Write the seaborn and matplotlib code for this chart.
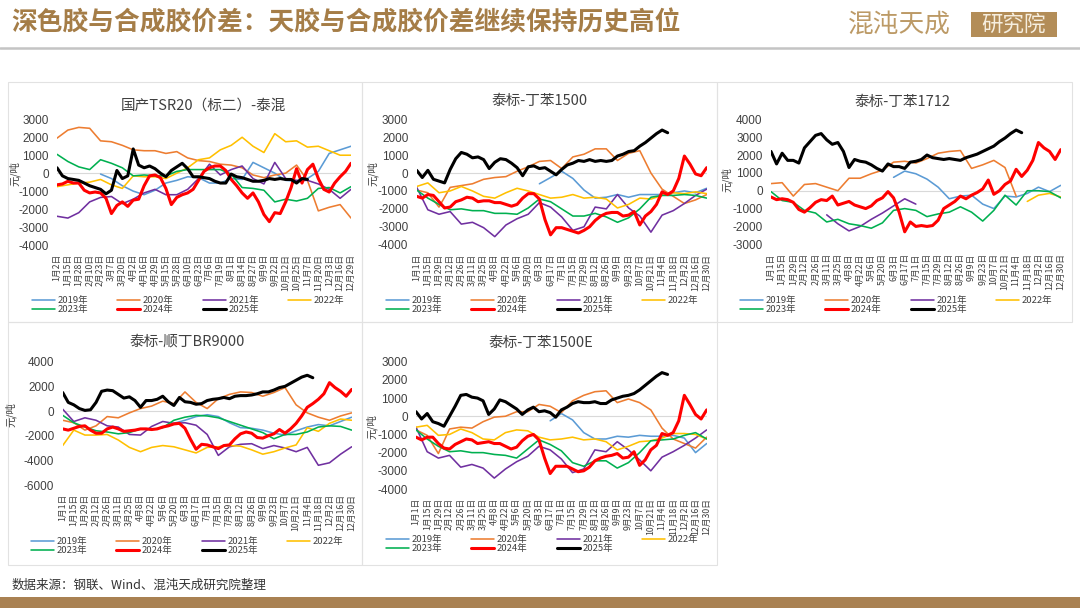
import matplotlib
matplotlib.use('Agg')
import matplotlib.pyplot as plt
import seaborn as sns
import pandas as pd
import numpy as np
from matplotlib.patches import Rectangle
from matplotlib.lines import Line2D

sns.set_theme(style='white')
plt.rcParams['font.family'] = ['Noto Sans CJK SC', 'DejaVu Sans']
plt.rcParams['axes.unicode_minus'] = False

W, H = 1080, 608

YEARS = ['2019年', '2020年', '2021年', '2022年', '2023年', '2024年', '2025年']
COLORS = ['#5B9BD5', '#ED7D31', '#7030A0', '#FFC000', '#00B050', '#FF0000', '#000000']

# x tick labels
ticks_tsr = ['1月2日', '1月15日', '1月28日', '2月10日', '2月23日', '3月7日', '3月20日', '4月2日',
             '4月16日', '4月29日', '5月15日', '5月28日', '6月10日', '6月23日', '7月6日', '7月19日',
             '8月1日', '8月14日', '8月27日', '9月9日', '9月22日', '10月12日', '10月25日', '11月7日',
             '11月20日', '12月3日', '12月16日', '12月29日']
ticks_std = ['1月1日', '1月15日', '1月29日', '2月12日', '2月26日', '3月11日', '3月25日', '4月8日',
             '4月22日', '5月6日', '5月20日', '6月3日', '6月17日', '7月1日', '7月15日', '7月29日',
             '8月12日', '8月26日', '9月9日', '9月23日', '10月7日', '10月21日', '11月4日', '11月18日',
             '12月2日', '12月16日', '12月30日']

# ---- 国产TSR20（标二）-泰混 ----  (2019-2023 one value per tick, 2024/2025 two per tick)
tsr_2019 = [-50, -300, -700, -1000, -1200, -950, -550, -400, -200, -250, -550, -550, -300, -350,
            600, 300, 0, -400, -450, -300, 100, 1100, 1300, 1500]
tsr_2020 = [1950, 2400, 2550, 2500, 1800, 1750, 1550, 1300, 1250, 1250, 1100, 1200, 850, 700,
            650, 500, 450, 300, -100, -250, -100, 0, 450, -400, -2100, -1900, -1750, -2500]
tsr_2021 = [-2400, -2500, -2200, -1600, -1350, -1300, -1700, -1450, -1100, -900, -1200, -1200,
            -900, -300, 500, -100, 200, 400, -300, -600, 600, -300, -400, -400, -600, -900, -1400, -900]
tsr_2022 = [-750, -650, -550, -500, -350, -650, -850, -150, -200, -200, -300, 0, 300, 750, 850,
            1300, 1550, 2000, 1500, 1150, 2200, 1750, 1800, 1450, 1500, 1250, 1000, 1000]
tsr_2023 = [1050, 650, 350, 200, 750, 550, 300, -150, -100, -150, -150, 100, 200, 200, 200, 200,
            -50, -800, -850, -950, -1600, -1450, -1550, -1400, -850, -800, -1100, -750]
tsr_2024 = [-650, -600, -450, -550, -550, -950, -1100, -1050, -1100, -1400,
            -2250, -1800, -1600, -1850, -1500, -1450, -700, -150, -100, -250,
            -850, -1750, -1350, -1200, -1100, -900, -400, 100, 300, 400,
            400, 150, -350, -700, -1100, -1400, -1100, -1600, -2300, -2700,
            -2200, -2250, -1600, -800, 250, -550, 200, 500, -300, -900,
            -1050, -550, -200, 100, 550]
tsr_2025 = [300, -150, -300, -350, -400, -550, -700, -800, -900, -1150,
            -950, 150, -300, -150, 1350, 450, 300, 400, 250, 0,
            -200, 150, 350, 550, 250, -200, -200, -250, -300, -450,
            -550, -550, -50, -200, -250, -350, -450, -450, -400, -300,
            -350, -300, -350, -350, -550, -300, -350]

# ---- 泰标-丁苯1500 ----
p2_2019 = [-600, -250, 100, -300, -950, -1400, -1350, -1200, -1350, -1200, -1200, -1200, -1100,
           -1000, -1100, -850]
p2_2020 = [-950, -1100, -1900, -800, -700, -600, -350, -250, -200, 100, 350, 650, 700, 250, 900,
           1050, 1350, 1350, 700, 1100, 1250, 0, -900, -1300, -1700, -1500, -1200]
p2_2021 = [-800, -2050, -2300, -2150, -2850, -2750, -3050, -3550, -2900, -2550, -2300, -1650,
           -1900, -2450, -3200, -3000, -1900, -2000, -1200, -1950, -2400, -3300, -2350, -2100,
           -1700, -1250, -900]
p2_2022 = [-750, -550, -1100, -1000, -750, -1000, -1300, -1400, -1100, -850, -1000, -1200, -1400,
           -1350, -1200, -1400, -1350, -1450, -1950, -1750, -1400, -1450, -1250, -1100, -1150,
           -1050, -1150]
p2_2023 = [-950, -1400, -1750, -2050, -2000, -2100, -2100, -2250, -2250, -2300, -1950, -1450,
           -1600, -2000, -2400, -2400, -2250, -2450, -2750, -2500, -2000, -1350, -1250, -1250,
           -1200, -1250, -1400]
p2_2024 = [-1300, -1400, -1200, -1250, -1600, -1950, -1900, -1600, -1500, -1350,
           -1400, -1600, -1550, -1550, -1650, -1650, -1750, -1850, -1750, -1400,
           -1150, -1150, -1450, -2600, -3450, -3050, -3050, -3150, -3250, -3350,
           -3200, -3000, -2650, -2400, -2250, -2200, -2200, -2400, -2350, -2150,
           -2900, -2400, -2150, -1750, -1050, -1200, -1000, -300, 950, 500,
           -50, -150, 300]
p2_2025 = [150, -250, 150, -350, -450, -550, 200, 800, 1150, 1050,
           850, 900, 750, 250, 600, 800, 750, 550, 300, -150,
           350, 400, 250, 300, 100, -100, 200, 450, 550, 700,
           650, 750, 650, 700, 650, 700, 950, 1050, 1200, 1250,
           1500, 1700, 1950, 2200, 2400, 2250]

# ---- 泰标-丁苯1712 ----
p3_2019 = [750, 1100, 950, 650, 200, -450, -300, -250, -750, -1000, -300, -350, -150, 200, -50, 300]
p3_2020 = [400, 450, -300, 350, 400, 200, 0, 700, 700, 950, 1150, 1600, 1650, 1550, 1800, 2100,
           2200, 2250, 1250, 1450, 1700, 1300, -300]
p3_2021 = [-1350, -1850, -2250, -2000, -1600, -1250, -850, -450, -750]
p3_2022 = [-600, -250, -150, -350]
p3_2023 = [-50, -550, -650, -1100, -1250, -1750, -1600, -1850, -1950, -2100, -1800, -1100, -1000,
           -1100, -1450, -1300, -1200, -900, -1200, -1700, -1100, -250, -800, 0, 0, -50, -400]
p3_2024 = [-350, -500, -450, -500, -650, -1050, -1200, -950, -650, -500,
           -550, -300, -800, -700, -600, -800, -900, -1000, -850, -550,
           -400, -50, -400, -1200, -2300, -1750, -2000, -1950, -2000, -1950,
           -1650, -1000, -800, -600, -300, -450, -250, -100, 100, 600,
           -200, 0, 350, 550, 1200, 800, 1150, 1700, 2700, 2400,
           2200, 1750, 2300]
p3_2025 = [2200, 1500, 2100, 1700, 1700, 1550, 2400, 2750, 3100, 3200,
           2850, 2600, 2700, 2200, 1300, 1750, 1650, 1600, 1450, 1250,
           1100, 1500, 1350, 1350, 1250, 1600, 1650, 1750, 2000, 1850,
           1800, 1750, 1800, 1750, 1700, 1850, 1950, 2050, 2200, 2350,
           2500, 2750, 2950, 3200, 3400, 3250]

# ---- 泰标-顺丁BR9000 ----
p4_2019 = [-1000, -750, -450, -300, -450, -950, -1350, -1400, -1550, -1800, -1950, -1600, -1300,
           -1100, -1200, -850, -500]
p4_2020 = [-750, -950, -1550, -1200, -450, -550, -150, 200, 400, 800, 600, 1550, 700, 200, 1000,
           1350, 1550, 1500, 1200, 1500, 1900, 500, -150, -500, -750, -400, -150]
p4_2021 = [150, -850, -550, -750, -1200, -1300, -1900, -1950, -1250, -850, -1000, -950, -1150,
           -1900, -3600, -2900, -2700, -2650, -3050, -2800, -3000, -3300, -2950, -4400, -4200,
           -3500, -2900]
p4_2022 = [-2800, -1550, -1950, -1950, -1900, -2350, -2950, -3300, -2950, -2800, -2900, -3150,
           -3400, -2950, -2900, -2800, -2850, -3150, -3500, -3300, -3000, -2750, -1350, -1650,
           -1000, -650, -750]
p4_2023 = [-350, -950, -1300, -1600, -1700, -1850, -1750, -1450, -1500, -1350, -750, -500, -350,
           -400, -550, -850, -1150, -1450, -1750, -2250, -1900, -1900, -1700, -1300, -1200,
           -1250, -1550]
p4_2024 = [-1450, -1550, -1400, -1250, -1200, -1550, -1800, -1800, -1450, -1300,
           -1450, -1650, -1600, -1550, -1450, -1450, -1500, -1450, -1300, -1200,
           -1050, -1000, -1400, -2300, -3100, -2700, -2750, -2900, -3050, -2800,
           -2750, -2250, -1850, -1700, -1800, -2150, -2200, -2000, -1850, -1500,
           -1800, -1450, -1000, -400, 300, 600, 950, 1400, 2300, 1900,
           1600, 1200, 1750]
p4_2025 = [1500, 700, 500, 200, 50, 100, 700, 1600, 1700, 1650,
           1350, 1050, 1150, 850, 300, 850, 850, 950, 1200, 750,
           450, 1100, 750, 700, 550, 600, 850, 950, 1000, 1100,
           1000, 1200, 1250, 1250, 1300, 1400, 1550, 1550, 1700, 1900,
           2000, 2250, 2500, 2750, 2900, 2700]

# ---- 泰标-丁苯1500E ----
p5_2019 = [-250, 150, -200, -900, -1250, -1250, -1100, -1150, -1050, -1100, -1100, -1050, -1200,
           -2000, -1500]
p5_2020 = [-750, -1050, -2050, -700, -600, -650, -300, -50, 0, 250, 250, 650, 550, 200, 850,
           1150, 1350, 1400, 750, 950, 750, 350, -650, -1250, -1500, -1750, -1150]
p5_2021 = [-600, -1950, -2300, -2150, -2800, -2650, -2850, -3400, -2900, -2500, -2200, -1650,
           -1850, -2350, -3100, -2900, -1850, -1950, -1400, -1850, -2400, -3000, -2250, -1950,
           -1600, -1200, -750]
p5_2022 = [-600, -500, -1050, -1000, -700, -900, -1250, -1300, -900, -750, -800, -1150, -1300,
           -1250, -1150, -1300, -1250, -1400, -1850, -1650, -1400, -1350, -1200, -950, -950,
           -1000, -1250]
p5_2023 = [-750, -1250, -1650, -1950, -1900, -2000, -2000, -2100, -2150, -2300, -1800, -1300,
           -1550, -1900, -2550, -2750, -2450, -2450, -2850, -2550, -2000, -1350, -1300, -1250,
           -1050, -900, -1250]
p5_2024 = [-1150, -1300, -1150, -1150, -1500, -1750, -1800, -1550, -1400, -1250,
           -1300, -1500, -1450, -1400, -1500, -1500, -1650, -1800, -1700, -1350,
           -1100, -1000, -1300, -2300, -3150, -2750, -2750, -2750, -2900, -3050,
           -3000, -2800, -2450, -2300, -2200, -2150, -2050, -2300, -2250, -1950,
           -2700, -2400, -1850, -1600, -950, -1050, -900, -250, 1150, 650,
           100, -150, 350]
p5_2025 = [250, -150, 150, -300, -400, -550, 0, 550, 1150, 1200,
           1050, 1000, 850, 100, 400, 900, 800, 600, 400, 100,
           350, 500, 250, 300, 200, -50, 350, 500, 700, 800,
           750, 750, 800, 700, 700, 900, 1000, 1100, 1150, 1250,
           1450, 1700, 1950, 2200, 2400, 2300]


def series_frame(series):
    # series: list of (start tick, step, values) in year order
    rows = []
    for year, (start, step, vals) in zip(YEARS, series):
        for k, v in enumerate(vals):
            rows.append((year, start + step * k, v))
    return pd.DataFrame(rows, columns=['year', 'x', 'value'])


PANELS = [
    dict(title='国产TSR20（标二）-泰混', ticks=ticks_tsr,
         series=[(4, 1, tsr_2019), (0, 1, tsr_2020), (0, 1, tsr_2021), (0, 1, tsr_2022),
                 (0, 1, tsr_2023), (0, 0.5, tsr_2024), (0, 0.5, tsr_2025)],
         box=(57, 351, 119.3, 245), ylim=(-4000, 3000), ystep=1000,
         title_xy=(203, 106), unit_xy=(15, 174), legend_xy=(32, 296)),
    dict(title='泰标-丁苯1500', ticks=ticks_std,
         series=[(11, 1, p2_2019), (0, 1, p2_2020), (0, 1, p2_2021), (0, 1, p2_2022),
                 (0, 1, p2_2023), (0, 0.5, p2_2024), (0, 0.5, p2_2025)],
         box=(416.7, 706.7, 119.3, 244.7), ylim=(-4000, 3000), ystep=1000,
         title_xy=(540, 101), unit_xy=(373, 174), legend_xy=(386, 296)),
    dict(title='泰标-丁苯1712', ticks=ticks_std,
         series=[(11, 1, p3_2019), (0, 1, p3_2020), (5, 1, p3_2021), (23, 1, p3_2022),
                 (0, 1, p3_2023), (0, 0.5, p3_2024), (0, 0.5, p3_2025)],
         box=(771, 1060.7, 119.3, 244.3), ylim=(-3000, 4000), ystep=1000,
         title_xy=(902, 102), unit_xy=(727, 180), legend_xy=(740, 296)),
    dict(title='泰标-顺丁BR9000', ticks=ticks_std,
         series=[(10, 1, p4_2019), (0, 1, p4_2020), (0, 1, p4_2021), (0, 1, p4_2022),
                 (0, 1, p4_2023), (0, 0.5, p4_2024), (0, 0.5, p4_2025)],
         box=(62.7, 351.7, 361.7, 485), ylim=(-6000, 4000), ystep=2000,
         title_xy=(187, 342), unit_xy=(11, 415), legend_xy=(31, 537)),
    dict(title='泰标-丁苯1500E', ticks=ticks_std,
         series=[(12, 1, p5_2019), (0, 1, p5_2020), (0, 1, p5_2021), (0, 1, p5_2022),
                 (0, 1, p5_2023), (0, 0.5, p5_2024), (0, 0.5, p5_2025)],
         box=(416, 706.7, 361.7, 489), ylim=(-4000, 3000), ystep=1000,
         title_xy=(541, 343), unit_xy=(372, 427), legend_xy=(386, 535)),
]

PANEL_FRAMES = [(8, 82, 362, 322), (362, 82, 717, 322), (717, 82, 1072, 322),
                (8, 322, 362, 565), (362, 322, 717, 565)]


def fx(x):
    return x / W


def fy(y):
    return 1 - y / H


fig = plt.figure(figsize=(W / 100, H / 100), dpi=100)
fig.patch.set_facecolor('white')

# header
fig.text(fx(11), fy(23), '深色胶与合成胶价差：天胶与合成胶价差继续保持历史高位',
         fontsize=18.5, color='#A57D47', fontweight='bold', ha='left', va='center')
fig.add_artist(Line2D([0, 1], [fy(48), fy(48)], color='#C4C4C4', lw=1.8,
                      transform=fig.transFigure))
fig.text(fx(848), fy(25), '混沌天成', fontsize=18.5, color='#BC9A66', ha='left', va='center')
fig.add_artist(Rectangle((fx(971), fy(37)), fx(1057) - fx(971), fy(12) - fy(37),
                         facecolor='#B38D58', edgecolor='none', transform=fig.transFigure))
fig.text(fx(1014), fy(24.5), '研究院', fontsize=15.5, color='#F6EEDF', ha='center', va='center')

# panel frames
for x0, y0, x1, y1 in PANEL_FRAMES:
    fig.add_artist(Rectangle((fx(x0), fy(y1)), fx(x1) - fx(x0), fy(y0) - fy(y1),
                             facecolor='none', edgecolor='#E2E2E2', lw=0.8,
                             transform=fig.transFigure))

for p in PANELS:
    xl, xr, yt, yb = p['box']
    ax = fig.add_axes([fx(xl), fy(yb), fx(xr) - fx(xl), (yb - yt) / H])
    ax.set_facecolor('none')
    df = series_frame(p['series'])
    handles = []
    for year, color in zip(YEARS, COLORS):
        lw = 2.2 if year in ('2024年', '2025年') else 1.15
        sub = df[df['year'] == year]
        sns.lineplot(data=sub, x='x', y='value', color=color, linewidth=lw, ax=ax,
                     estimator=None, sort=False, legend=False)
        handles.append(Line2D([0], [0], color=color, lw=lw))
    for line in ax.get_lines():
        line.set_solid_joinstyle('round')
    ax.axhline(0, color='#D9D9D9', lw=0.8, zorder=0)

    n = len(p['ticks'])
    ax.set_xlim(0, n - 1)
    ymin, ymax = p['ylim']
    ax.set_ylim(ymin, ymax)
    ax.set_xticks(range(n))
    ax.set_xticklabels(p['ticks'], rotation=90, fontsize=6.3, color='#404040')
    yt_vals = np.arange(ymin, ymax + 1, p['ystep'])
    ax.set_yticks(yt_vals)
    ax.set_yticklabels([str(int(v)) for v in yt_vals], fontsize=8.5, color='#404040',
                       fontfamily='Liberation Sans')
    ax.tick_params(axis='x', length=0, pad=6.5)
    ax.tick_params(axis='y', length=0, pad=6)
    ax.set_xlabel('')
    ax.set_ylabel('')
    for s in ax.spines.values():
        s.set_visible(False)

    tx, ty = p['title_xy']
    fig.text(fx(tx), fy(ty), p['title'], fontsize=10.5, color='#404040', ha='center', va='center')
    ux, uy = p['unit_xy']
    fig.text(fx(ux), fy(uy), '元/吨', fontsize=7.5, color='#404040', rotation=90,
             ha='center', va='center')

    order = [0, 4, 1, 5, 2, 6, 3]
    lx, ly = p['legend_xy']
    ax.legend([handles[i] for i in order], [YEARS[i] for i in order], ncol=4,
              loc='upper left', bbox_to_anchor=(fx(lx), fy(ly)), bbox_transform=fig.transFigure,
              frameon=False, fontsize=6.8, handlelength=2.4, handletextpad=0.3,
              columnspacing=3.1, labelspacing=0.0, borderpad=0, borderaxespad=0,
              labelcolor='#404040')

# footer
fig.text(fx(12), fy(585), '数据来源：钢联、Wind、混沌天成研究院整理', fontsize=9, color='#333333',
         ha='left', va='center')
fig.add_artist(Rectangle((0, 0), 1, fy(597), facecolor='#A98152', edgecolor='none',
                         transform=fig.transFigure))

fig.savefig('out.png', dpi=100)
